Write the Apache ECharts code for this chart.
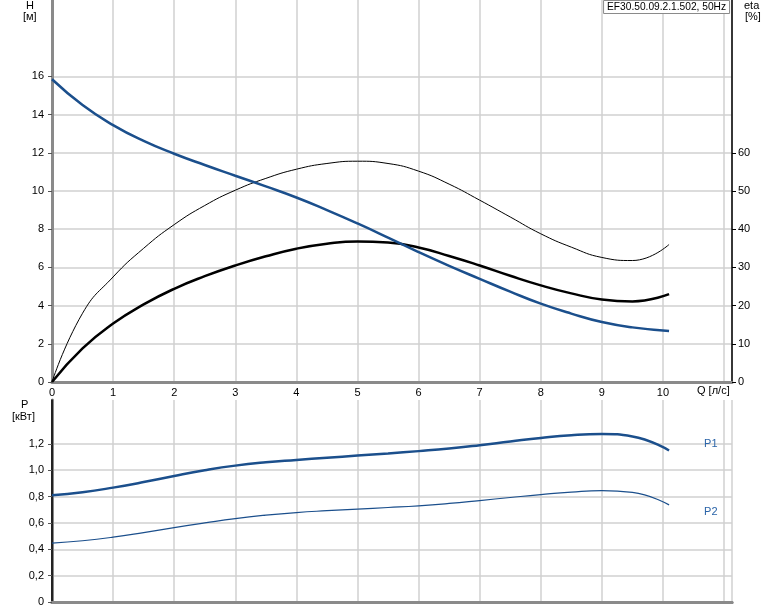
<!DOCTYPE html>
<html>
<head>
<meta charset="utf-8">
<script src="https://cdn.jsdelivr.net/npm/echarts@6/dist/echarts.min.js"></script>
<style>html,body{margin:0;padding:0;background:#fff}#c{width:774px;height:611px}</style>
</head>
<body>
<div id="c"></div>
<script>
// ---- data ----
var flowQ = [0, 0.5, 1, 1.5, 2, 2.5, 3, 3.5, 4, 4.5, 5, 5.5, 6, 6.5, 7, 7.5, 8, 8.5, 9, 9.5, 10.1];
var headH = [15.85, 14.5, 13.45, 12.62, 11.95, 11.36, 10.8, 10.24, 9.66, 9.0, 8.3, 7.56, 6.8, 6.08, 5.4, 4.73, 4.1, 3.58, 3.14, 2.86, 2.67];
var etaThin = [0, 18, 27.5, 35.0, 41.2, 46.2, 50.2, 53.3, 55.7, 57.2, 57.8, 57.2, 55.2, 51.8, 47.6, 43.2, 38.8, 35.3, 32.6, 31.8, 36];
var etaThick = [0, 8.8, 15.3, 20.3, 24.4, 27.7, 30.5, 32.9, 34.9, 36.2, 36.8, 36.5, 35.2, 33.0, 30.5, 27.8, 25.3, 23.2, 21.6, 21.1, 23];
var powerP1 = [0.81, 0.833, 0.868, 0.91, 0.957, 1.0, 1.035, 1.06, 1.078, 1.095, 1.111, 1.127, 1.145, 1.165, 1.19, 1.218, 1.245, 1.266, 1.275, 1.256, 1.15];
var powerP2 = [0.447, 0.465, 0.492, 0.527, 0.565, 0.6, 0.633, 0.659, 0.679, 0.693, 0.705, 0.717, 0.73, 0.748, 0.77, 0.793, 0.815, 0.834, 0.845, 0.832, 0.737];
var xTicks = [0, 1, 2, 3, 4, 5, 6, 7, 8, 9, 10];
var hTicks = [0, 2, 4, 6, 8, 10, 12, 14, 16];
var etaTicks = [0, 10, 20, 30, 40, 50, 60];
var pTicks = [0, 0.2, 0.4, 0.6, 0.8, 1.0, 1.2];
var titleText = 'EF30.50.09.2.1.502, 50Hz';

function pairs(xs, ys) { return xs.map(function (x, i) { return [x, ys[i]]; }); }

var FONT = 'Liberation Sans, Arial, sans-serif';
var gridLine = { show: true, lineStyle: { color: '#d0d0d0', width: 1.5 } };
var greyAxis = { show: true, lineStyle: { color: '#8a8a8a', width: 3 } };
var blackAxis = { show: true, lineStyle: { color: '#000', width: 1.5 } };
var lbl = { color: '#000', fontSize: 11, fontFamily: FONT };
var BLUE = '#1b4f8c';
var SM = 0.5;

var chart = echarts.init(document.getElementById('c'), null, { renderer: 'canvas' });
chart.setOption({
  animation: false,
  backgroundColor: '#fff',
  title: {
    text: titleText, right: 44, top: 0,
    borderColor: '#8a8a8a', borderWidth: 1, backgroundColor: '#fff',
    padding: [2, 4, 2, 4],
    textStyle: { fontSize: 10.2, fontWeight: 'normal', color: '#000', fontFamily: FONT }
  },
  grid: [
    { left: 52, right: 42, top: 0, bottom: 229 },
    { left: 52, right: 42, top: 400, bottom: 9 }
  ],
  xAxis: [
    { type: 'value', gridIndex: 0, min: 0, max: 11.13, interval: 1,
      axisLine: greyAxis, axisTick: { show: false },
      axisLabel: Object.assign({ margin: 5, customValues: xTicks }, lbl),
      splitLine: gridLine },
    { type: 'value', gridIndex: 1, min: 0, max: 11.13, interval: 1,
      axisLine: greyAxis, axisTick: { show: false }, axisLabel: { show: false },
      splitLine: gridLine },
    { type: 'value', gridIndex: 1, position: 'top', min: 0, max: 11.13, interval: 1,
      axisLine: greyAxis, axisTick: { show: false }, axisLabel: { show: false },
      splitLine: { show: false } }
  ],
  yAxis: [
    { type: 'value', gridIndex: 0, position: 'left', min: 0, max: 20, interval: 2,
      axisLine: greyAxis,
      axisTick: { show: true, length: 4, customValues: hTicks, lineStyle: { color: '#555' } },
      axisLabel: Object.assign({ margin: 8, customValues: hTicks }, lbl),
      splitLine: gridLine },
    { type: 'value', gridIndex: 0, position: 'right', min: 0, max: 100, interval: 10,
      axisLine: blackAxis,
      axisTick: { show: true, length: 4, customValues: etaTicks, lineStyle: { color: '#000' } },
      axisLabel: Object.assign({ margin: 6, customValues: etaTicks }, lbl),
      splitLine: { show: false } },
    { type: 'value', gridIndex: 1, position: 'left', min: 0, max: 1.533, interval: 0.2,
      axisLine: greyAxis,
      axisTick: { show: true, length: 4, customValues: pTicks, lineStyle: { color: '#555' } },
      axisLabel: Object.assign({ margin: 8, customValues: pTicks,
        formatter: function (v) { return v === 0 ? '0' : v.toFixed(1).replace('.', ','); } }, lbl),
      splitLine: gridLine },
    { type: 'value', gridIndex: 1, position: 'right', min: 0, max: 1.533, interval: 0.2,
      axisLine: blackAxis, axisTick: { show: false }, axisLabel: { show: false },
      splitLine: { show: false } }
  ],
  series: [
    { name: 'H', type: 'line', xAxisIndex: 0, yAxisIndex: 0, data: pairs(flowQ, headH),
      smooth: SM, symbol: 'none', lineStyle: { color: BLUE, width: 2.5 }, z: 5 },
    { name: 'eta1', type: 'line', xAxisIndex: 0, yAxisIndex: 1, data: pairs(flowQ, etaThin),
      smooth: SM, symbol: 'none', lineStyle: { color: '#000', width: 1 }, z: 4 },
    { name: 'eta2', type: 'line', xAxisIndex: 0, yAxisIndex: 1, data: pairs(flowQ, etaThick),
      smooth: SM, symbol: 'none', lineStyle: { color: '#000', width: 2.5 }, z: 4 },
    { name: 'P1', type: 'line', xAxisIndex: 1, yAxisIndex: 2, data: pairs(flowQ, powerP1),
      smooth: SM, symbol: 'none', lineStyle: { color: BLUE, width: 2.5 },
      endLabel: { show: true, formatter: 'P1', offset: [27, -6], color: '#2a64a8', fontSize: 11, fontFamily: FONT } },
    { name: 'P2', type: 'line', xAxisIndex: 1, yAxisIndex: 2, data: pairs(flowQ, powerP2),
      smooth: SM, symbol: 'none', lineStyle: { color: BLUE, width: 1.2 },
      endLabel: { show: true, formatter: 'P2', offset: [27, 7], color: '#2a64a8', fontSize: 11, fontFamily: FONT } }
  ],
  graphic: [
    { type: 'text', left: 26, top: 0, style: { text: 'H', fill: '#000', font: '11px ' + FONT } },
    { type: 'text', left: 23, top: 11, style: { text: '[м]', fill: '#000', font: '11px ' + FONT } },
    { type: 'text', left: 744, top: 0, style: { text: 'eta', fill: '#000', font: '11px ' + FONT } },
    { type: 'text', left: 745, top: 11, style: { text: '[%]', fill: '#000', font: '11px ' + FONT } },
    { type: 'text', left: 21, top: 399, style: { text: 'P', fill: '#000', font: '11px ' + FONT } },
    { type: 'text', left: 12, top: 411, style: { text: '[кВт]', fill: '#000', font: '11px ' + FONT } },
    { type: 'text', left: 697, top: 385, style: { text: 'Q [л/с]', fill: '#000', font: '11px ' + FONT } }
  ]
});
</script>
</body>
</html>
